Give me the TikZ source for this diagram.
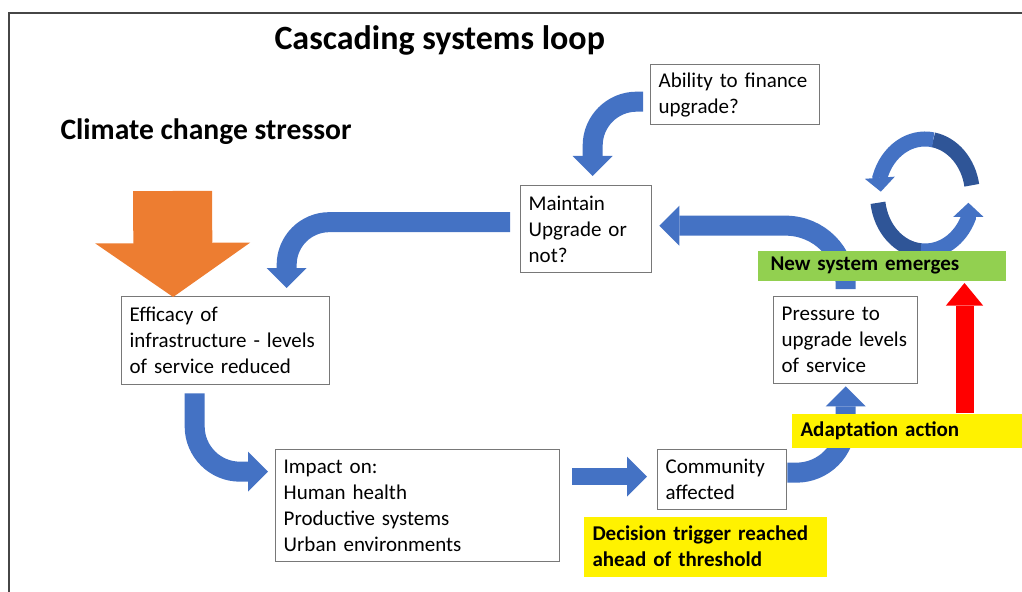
\documentclass[tikz,border=0pt]{standalone}
\usepackage{fontspec}
\setmainfont{Carlito}
\usetikzlibrary{arrows.meta,calc}

\definecolor{flowblue}{RGB}{68,114,196}
\definecolor{loopdark}{RGB}{47,85,151}
\definecolor{stressorange}{RGB}{237,125,49}
\definecolor{emergegreen}{RGB}{146,208,80}
\definecolor{boxgray}{RGB}{120,120,120}
\definecolor{framegray}{RGB}{70,70,70}

\tikzset{every picture/.style={line width=0.75pt}}
\tikzset{
  infobox/.style={draw=boxgray, line width=1pt, fill=white, align=left, anchor=north west,
    inner xsep=6pt, inner ysep=0pt, font=\fontsize{15.75}{19.5}\selectfont},
  highlight/.style={align=left, anchor=north west, inner xsep=6.75pt, inner ysep=0pt,
    font=\fontsize{15.75}{19.5}\selectfont\bfseries},
  flow/.style={draw=flowblue, line width=15pt, -{Triangle[length=15pt,width=30pt,line width=0pt]}},
  loopflow/.style={draw=flowblue, line width=11.25pt, -{Triangle[length=10.5pt,width=22.5pt,line width=0pt]}},
  loopshade/.style={draw=loopdark, line width=11.25pt},
}

\begin{document}
\begin{tikzpicture}[x=0.75pt,y=0.75pt,yscale=-1,xscale=1]
\useasboundingbox (0,0) rectangle (1022,592);

%Frame
\draw [framegray, line width=1.5pt] (9,592) -- (9,13) -- (1022,13) ;

%Titles
\node [anchor=west, inner sep=0pt, font=\fontsize{25.5}{30}\selectfont\bfseries] (title) at (274,40) {Cascading systems loop};
\node [anchor=west, inner sep=0pt, font=\fontsize{22.2}{26}\selectfont\bfseries] (stresslabel) at (60,132) {Climate change stressor};

%Shape: Boxes
\node [infobox, text width=144pt, minimum height=66pt] (eff) at (121,296) {Efficacy of\\infrastructure - levels\\of service reduced};
\node [infobox, text width=201pt, minimum height=84pt] (imp) at (275,449) {Impact on:\\Human health\\Productive systems\\Urban environments};
\node [infobox, text width=84.75pt, minimum height=45pt] (comm) at (657,449) {Community\\affected};
\node [infobox, text width=96pt, minimum height=65.25pt] (press) at (773,296) {Pressure to\\upgrade levels\\of service};
\node [infobox, text width=86.25pt, minimum height=65.25pt] (maint) at (520,185) {Maintain\\Upgrade or\\not?};
\node [infobox, text width=114.75pt, minimum height=45pt] (abil) at (650,64) {Ability to finance\\upgrade?};

%Block Arrow: stressor
\coordinate (stressor) at (172.5,191);
\draw [draw=stressorange, line width=59.25pt, -{Triangle[length=40.5pt,width=116.25pt,line width=0pt]}] (stressor) -- ($(eff.north)+(-52.5,1)$) ;

%Curve Lines: loop arrows
\draw [flow, rounded corners=32pt] ($(maint.west)+(-10,-7)$) -| ($(eff.north)+(61,-8)$) ;
\draw [flow, rounded corners=33pt] ($(abil.west)+(-7,7)$) -| ($(maint.north)+(6.5,-9)$) ;
\draw [flow, rounded corners=34pt] ($(eff.south)+(-31,8)$) |- ($(imp.west)+(-7,-34)$) ;
\draw [flow, line width=13pt] ($(imp.east)+(12,-29)$) -- ($(comm.west)+(-10,-3)$) ;
\draw [flow, rounded corners=37pt] ($(comm.east)+(0,-7)$) -| ($(press.south)+(0,2)$) ;
\draw [flow, rounded corners=45pt] ($(press.north)+(0,-7)$) |- ($(maint.east)+(7,-3.5)$) ;

%Circular arrows
\coordinate (loop) at (925,195);
\draw [loopshade] ($(loop)+(-10:47.5 and 56)$) arc[start angle=-10, end angle=-80, x radius=47.5, y radius=56] ;
\draw [loopflow] ($(loop)+(-80:47.5 and 56)$) arc[start angle=-80, end angle=-162, x radius=47.5, y radius=56] -- ++(1,14) ;
\draw [loopshade] ($(loop)+(172:47.5 and 56)$) arc[start angle=172, end angle=95, x radius=47.5, y radius=56] ;
\draw [loopflow] ($(loop)+(95:47.5 and 56)$) arc[start angle=95, end angle=24, x radius=47.5, y radius=56] -- ++(0,-15) ;

%Highlighted labels
\node [highlight, fill=emergegreen, inner xsep=9.75pt, text width=166.5pt, minimum height=22.5pt] (new) at (757,250) {New system emerges};
\node [highlight, fill=yellow, text width=159pt, minimum height=25.5pt] (adapt) at (791,413) {Adaptation action};
\node [highlight, fill=yellow, text width=168.75pt, minimum height=45pt] (decide) at (583,516) {Decision trigger reached\\ahead of threshold};

%Straight Lines: adaptation
\draw [draw=red, line width=13.5pt, -{Triangle[length=17pt,width=28pt,line width=0pt]}] ($(adapt.north)+(58,0)$) -- ($(new.south)+(83,2)$) ;

\end{tikzpicture}
\end{document}
